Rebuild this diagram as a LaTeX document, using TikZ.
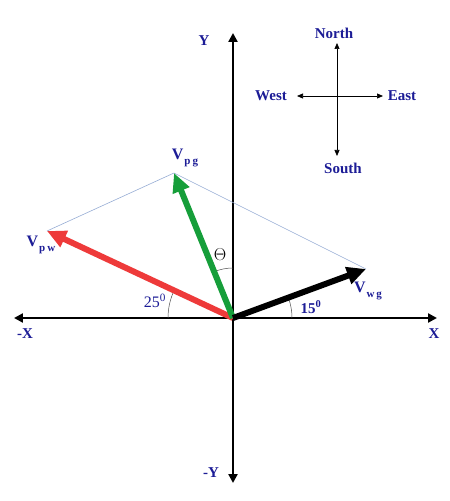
\documentclass[tikz,border=0pt]{standalone}
\usepackage{fontspec}
\setmainfont{Liberation Serif}
\usetikzlibrary{arrows.meta}
\definecolor{vred}{RGB}{238,58,58}
\definecolor{vgreen}{RGB}{22,158,58}
\definecolor{txtblue}{RGB}{28,28,150}
\definecolor{guide}{RGB}{150,172,212}
\tikzset{
  >={Triangle[length=6pt,width=5pt]},
}
\tikzstyle{axis}=[line width=2.6pt,{Triangle[length=9pt,width=9pt]}-{Triangle[length=9pt,width=9pt]}]
\tikzstyle{vector}=[line width=6pt,-{Triangle[length=19pt,width=17pt]}]
\tikzstyle{compass}=[line width=0.7pt,<->]
\tikzstyle{angle}=[line width=0.5pt,black!70]
\tikzstyle{every node}=[font=\fontsize{15}{15}\selectfont\bfseries,text=txtblue,inner sep=1pt]
\newcommand{\vlab}[2]{\fontsize{16}{16}\selectfont V\hspace{1pt}\raisebox{-5pt}{\fontsize{11}{11}\selectfont #1\hspace{2pt}#2}}

\begin{document}
\begin{tikzpicture}[x=1pt,y=1pt]
  \useasboundingbox (-233,-183) rectangle (217,318);
  % axes
  \coordinate (O) at (0,0);
  \coordinate (xm) at (-219,0);
  \coordinate (xp) at (204,0);
  \coordinate (ym) at (0,-165);
  \coordinate (yp) at (0,285);
  \draw[axis] (xm)--(xp);
  \draw[axis] (ym)--(yp);
  \node (X)  at (201,-16) {X};
  \node (mX) at (-208,-16) {-X};
  \node (Y)  at (-29,277) {Y};
  \node (mY) at (-22,-155) {-Y};
  % velocity vectors
  \coordinate (pw) at (-186,87);
  \coordinate (pg) at (-59,145);
  \coordinate (wg) at (133,49);
  \draw[guide,line width=0.6pt] (pw)--(pg)--(wg);
  \draw[angle] (-65,0) arc (180:155:65);
  \draw[angle] (0,50) arc (90:112:50);
  \draw[angle] (59,0) arc (0:20:59);
  \draw[vector,vred] (O)--(pw);
  \draw[vector,vgreen] (O)--(pg);
  \draw[vector,black] (O)--(wg);
  \node (Vpw) at (-192,73) {\vlab{p}{w}};
  \node (Vpg) at (-48,160) {\vlab{p}{g}};
  \node (Vwg) at (135,27) {\vlab{w}{g}};
  \node[text=black,font=\fontsize{17}{17}\selectfont] (th) at (-13,63) {$\Theta$};
  \node[font=\fontsize{16}{16}\selectfont] (a25) at (-78,17) {25\textsuperscript{0}};
  \node (a15) at (78,11) {15\textsuperscript{0}};
  % compass
  \coordinate (C) at (104,222);
  \coordinate (N) at (104,275);
  \coordinate (S) at (104,162);
  \coordinate (W) at (64,222);
  \coordinate (E) at (150,222);
  \draw[compass] (S)--(N);
  \draw[compass] (W)--(E);
  \node (north) at (101,285) {North};
  \node (south) at (110,150) {South};
  \node (west)  at (38,222)  {West};
  \node (east)  at (169,222) {East};
\end{tikzpicture}
\end{document}
